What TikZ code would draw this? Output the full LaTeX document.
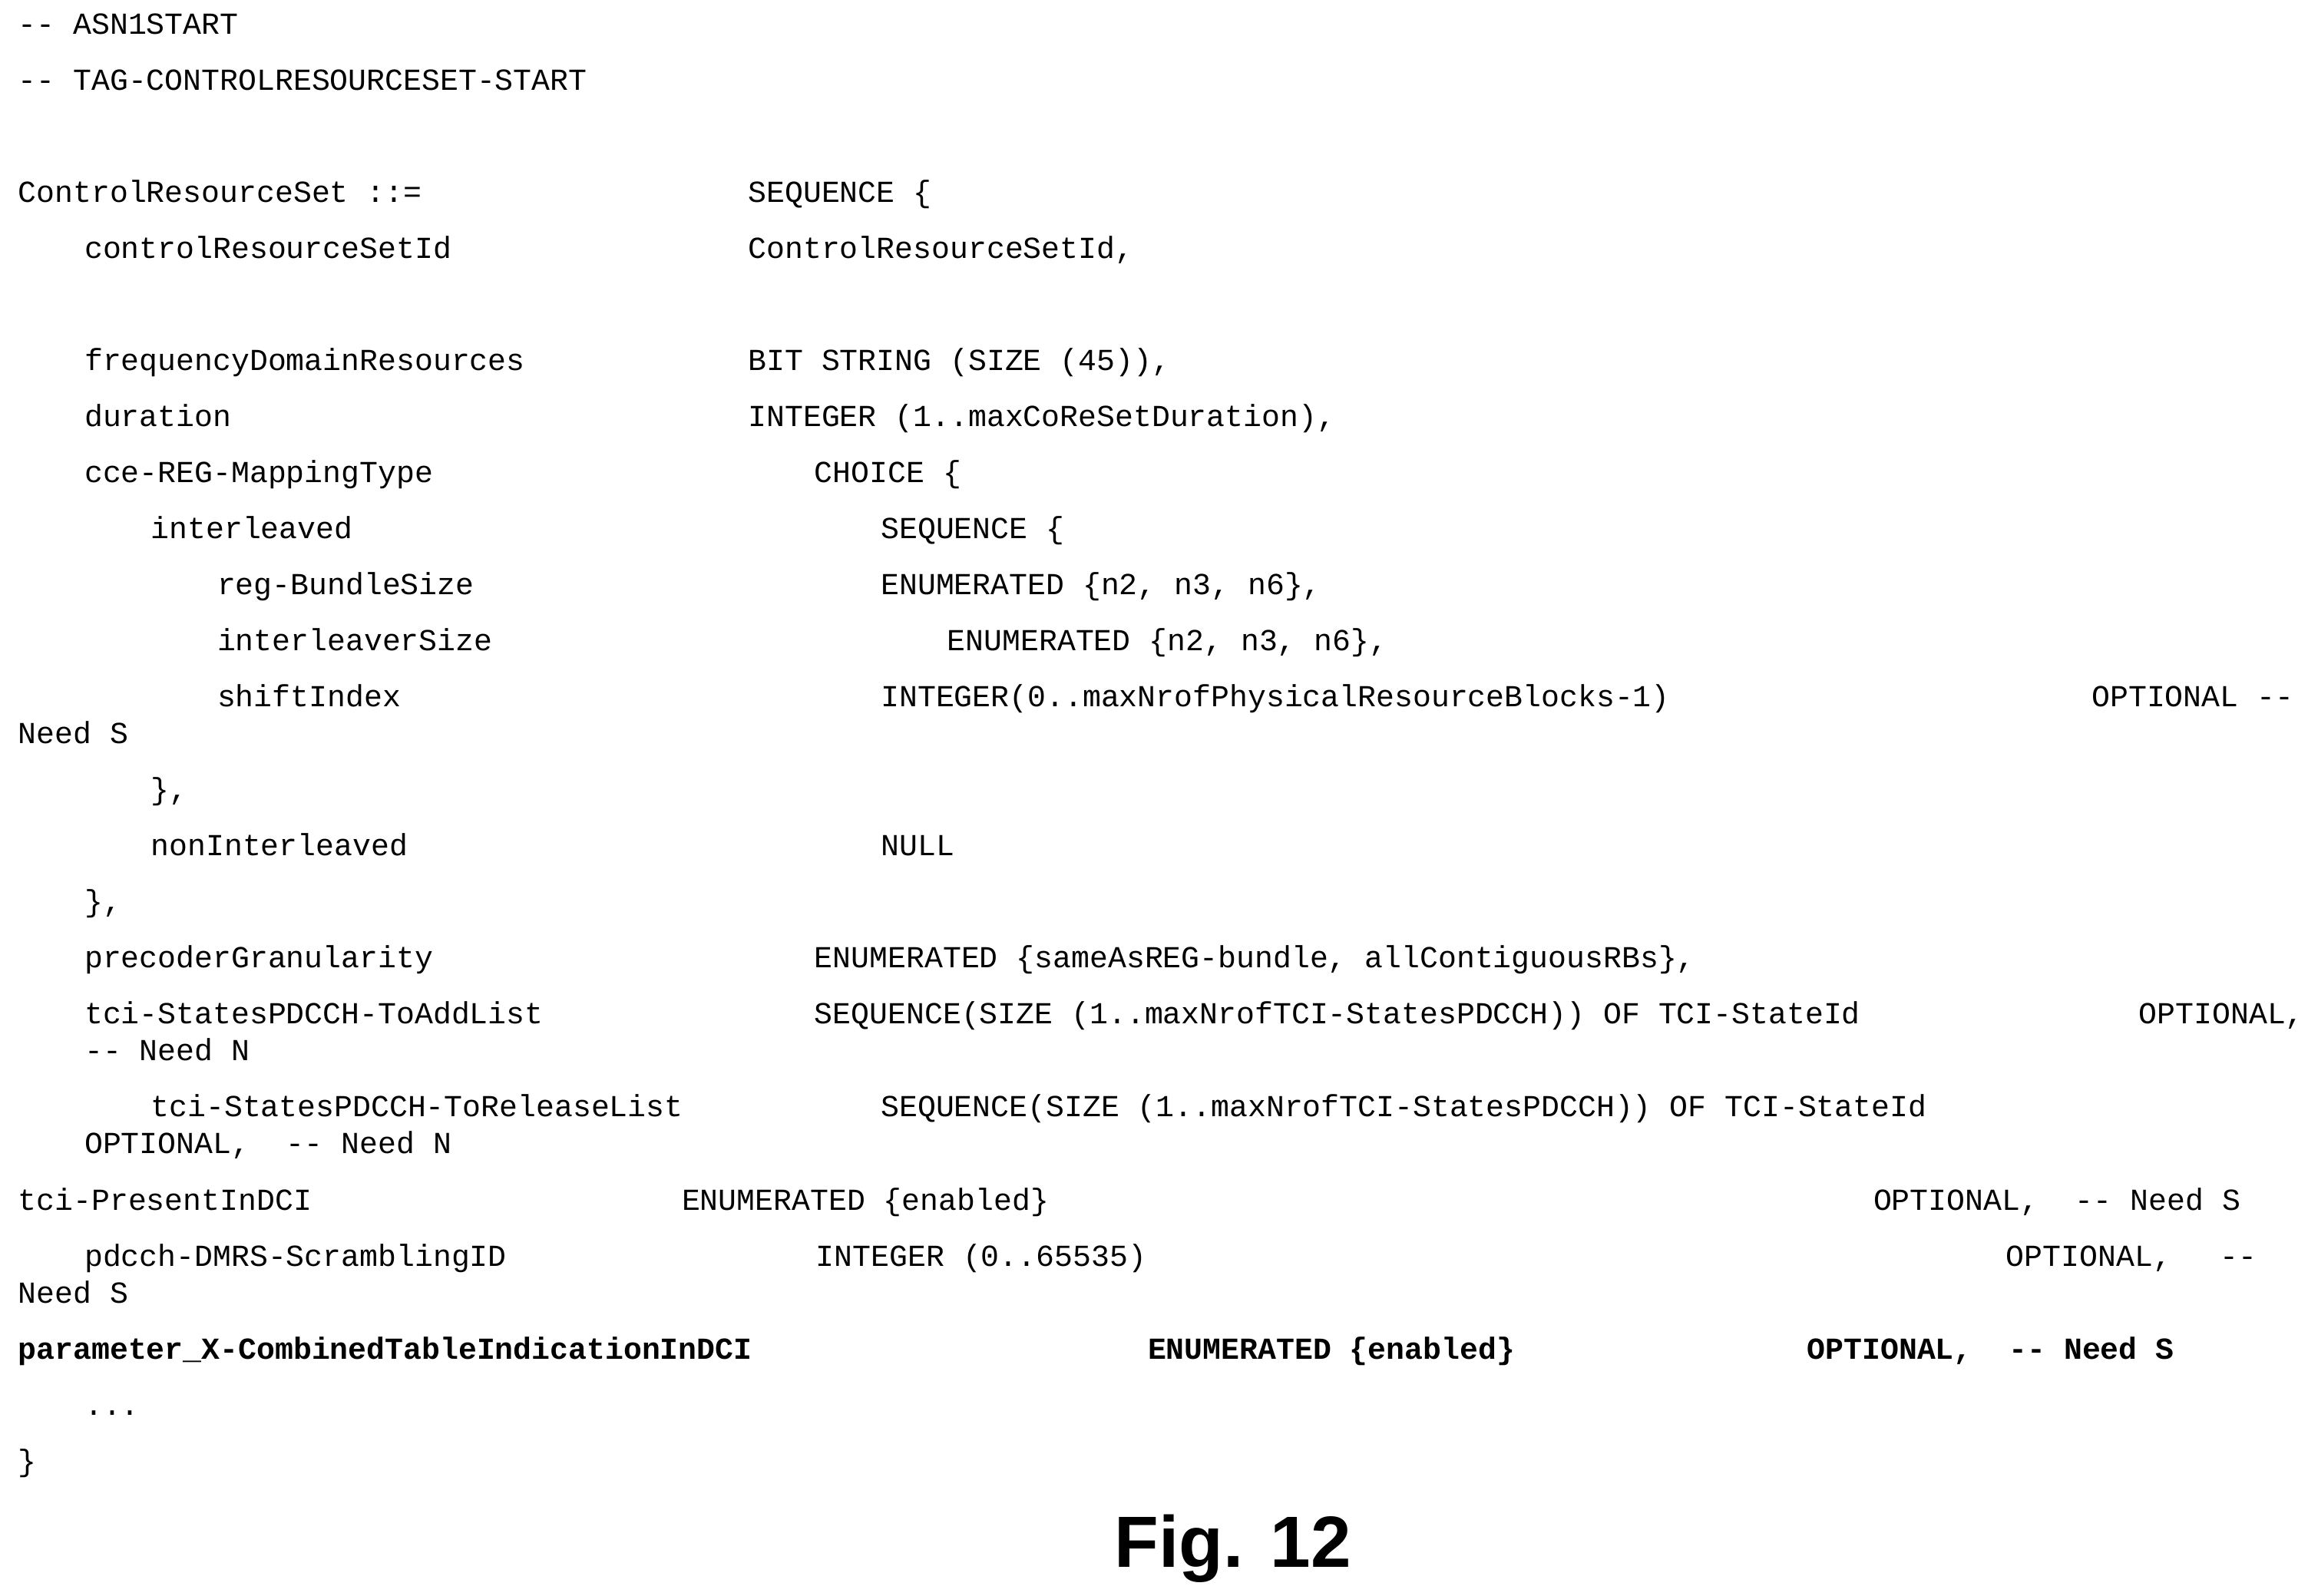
\documentclass[tikz,border=0pt]{standalone}
\usepackage{fontspec}
\newfontfamily\asnfont{Liberation Mono}
\newfontfamily\figfont{Liberation Sans}
\newcommand{\dd}{-{}-}
\tikzset{
  asn/.style={anchor=base west, inner sep=0pt, font=\asnfont\fontsize{11.8pt}{13pt}\selectfont},
  asnb/.style={asn, font=\asnfont\bfseries\fontsize{11.8pt}{13pt}\selectfont},
}
\begin{document}
\begin{tikzpicture}[x=0.02cm,y=-0.02cm]
            \useasboundingbox (0,0) rectangle (1565,1082);

            \node[asn] (start) at (12,23) {\dd{} ASN1START};
            \node[asn] (tag) at (12,61) {\dd{} TAG-CONTROLRESOURCESET-START};

            \node[asn] (crs) at (12,137) {ControlResourceSet ::=};
            \node[asn] (crsT) at (507,137) {SEQUENCE \{};
            \node[asn] (id) at (57,175) {controlResourceSetId};
            \node[asn] (idT) at (507,175) {ControlResourceSetId,};

            \node[asn] (freq) at (57,251) {frequencyDomainResources};
            \node[asn] (freqT) at (507,251) {BIT STRING (SIZE (45)),};
            \node[asn] (dur) at (57,289) {duration};
            \node[asn] (durT) at (507,289) {INTEGER (1..maxCoReSetDuration),};
            \node[asn] (cce) at (57,327) {cce-REG-MappingType};
            \node[asn] (cceT) at (552,327) {CHOICE \{};
            \node[asn] (il) at (102,365) {interleaved};
            \node[asn] (ilT) at (597,365) {SEQUENCE \{};
            \node[asn] (reg) at (147,403) {reg-BundleSize};
            \node[asn] (regT) at (597,403) {ENUMERATED \{n2, n3, n6\},};
            \node[asn] (ils) at (147,441) {interleaverSize};
            \node[asn] (ilsT) at (642,441) {ENUMERATED \{n2, n3, n6\},};
            \node[asn] (shift) at (147,479) {shiftIndex};
            \node[asn] (shiftT) at (597,479) {INTEGER(0..maxNrofPhysicalResourceBlocks-1)};
            \node[asn] (shiftO) at (1418,479) {OPTIONAL \dd};
            \node[asn] (shiftN) at (12,504) {Need S};
            \node[asn] (ilEnd) at (102,542) {\},};
            \node[asn] (nil) at (102,580) {nonInterleaved};
            \node[asn] (nilT) at (597,580) {NULL};
            \node[asn] (cceEnd) at (57,618) {\},};

            \node[asn] (prec) at (57,656) {precoderGranularity};
            \node[asn] (precT) at (552,656) {ENUMERATED \{sameAsREG-bundle, allContiguousRBs\},};
            \node[asn] (add) at (57,694) {tci-StatesPDCCH-ToAddList};
            \node[asn] (addT) at (552,694) {SEQUENCE(SIZE (1..maxNrofTCI-StatesPDCCH)) OF TCI-StateId};
            \node[asn] (addO) at (1450,694) {OPTIONAL,};
            \node[asn] (addN) at (57,719) {\dd{} Need N};
            \node[asn] (rel) at (102,757) {tci-StatesPDCCH-ToReleaseList};
            \node[asn] (relT) at (597,757) {SEQUENCE(SIZE (1..maxNrofTCI-StatesPDCCH)) OF TCI-StateId};
            \node[asn] (relO) at (57,782) {OPTIONAL,\ \ \dd{} Need N};
            \node[asn] (pres) at (12,821) {tci-PresentInDCI};
            \node[asn] (presT) at (462,821) {ENUMERATED \{enabled\}};
            \node[asn] (presO) at (1270,821) {OPTIONAL,\ \ \dd{} Need S};
            \node[asn] (dmrs) at (57,859) {pdcch-DMRS-ScramblingID};
            \node[asn] (dmrsT) at (553,859) {INTEGER (0..65535)};
            \node[asn] (dmrsO) at (1360,859) {OPTIONAL,};
            \node[asn] (dmrsD) at (1505,859) {\dd};
            \node[asn] (dmrsN) at (12,884) {Need S};

            % new field
            \node[asnb] (par) at (12,922) {parameter\_X-CombinedTableIndicationInDCI};
            \node[asnb] (parT) at (778,922) {ENUMERATED \{enabled\}};
            \node[asnb] (parO) at (1225,922) {OPTIONAL,\ \ \dd{} Need S};

            \node[asn] (dots) at (57,960) {...};
            \node[asn] (crsEnd) at (12,998) {\}};

            \node[font=\figfont\bfseries\fontsize{28pt}{32pt}\selectfont] (fig) at (836,1050) {Fig. 12};
\end{tikzpicture}
\end{document}
